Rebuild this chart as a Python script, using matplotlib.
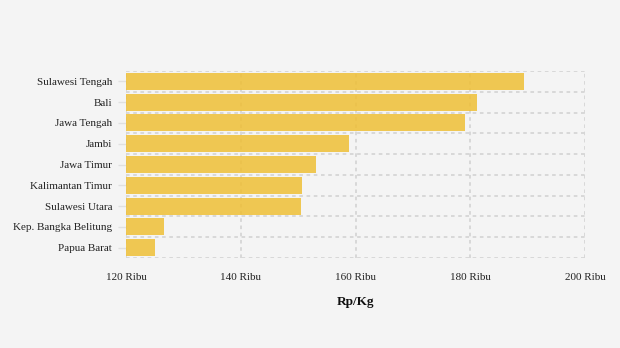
import matplotlib
matplotlib.use("Agg")
import matplotlib.pyplot as plt
import numpy as np

provinces = ["Sulawesi Tengah", "Bali", "Jawa Tengah", "Jambi", "Jawa Timur",
             "Kalimantan Timur", "Sulawesi Utara", "Kep. Bangka Belitung", "Papua Barat"]
values = [189.4, 181.2, 179.1, 158.9, 153.1, 150.7, 150.5, 126.6, 125.1]  # ribu Rp/Kg
xticks = [120, 140, 160, 180, 200]
xtick_labels = ["120 Ribu", "140 Ribu", "160 Ribu", "180 Ribu", "200 Ribu"]

plt.rcParams['font.family'] = ['Liberation Serif', 'DejaVu Serif']

bg = "#f4f4f4"
fig = plt.figure(figsize=(6.2, 3.48), dpi=100, facecolor=bg)
ax = fig.add_axes([126/620, 1-258/348, (585-126)/620, (258-71)/348], facecolor=bg)

y = np.arange(len(provinces))
ax.barh(y, [v - 120 for v in values], left=120, height=0.82, color="#efbf35",
        alpha=0.85, zorder=2)

ax.set_xlim(120, 200)
ax.set_ylim(len(provinces) - 0.5, -0.5)
ax.set_xticks(xticks)
ax.set_xticklabels(xtick_labels, fontsize=8)
ax.set_yticks(y)
ax.set_yticklabels(provinces, fontsize=8)
for lbl in ax.get_yticklabels():
    lbl.set_va('center_baseline')
ax.set_yticks(np.arange(-0.5, len(provinces), 1.0), minor=True)

for s in ax.spines.values():
    s.set_visible(False)

gcol = "#d6d6d6"
ax.grid(axis='x', which='major', color=gcol, linestyle=(0, (2, 2)), linewidth=1.3, zorder=0)
ax.grid(axis='y', which='minor', color=gcol, linestyle=(0, (2, 2)), linewidth=1.3, zorder=0)
ax.grid(axis='y', which='major', visible=False)
ax.set_axisbelow(True)

ax.tick_params(axis='x', length=0, pad=11, labelcolor="#222222")
ax.tick_params(axis='y', which='major', length=6, width=1, color="#e0e0e0", pad=4, labelcolor="#222222")
ax.tick_params(axis='y', which='minor', length=0)

ax.set_xlabel("Rp/Kg", fontsize=9.5, fontweight='bold', labelpad=10, color="#111111")

fig.savefig("out.png", dpi=100, facecolor=bg)
